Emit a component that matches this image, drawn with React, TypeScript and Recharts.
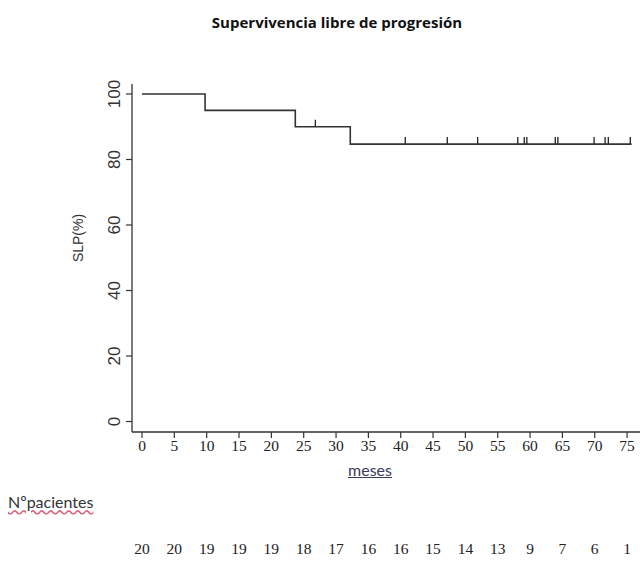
import React from 'react';
import { ComposedChart, Line, Scatter, XAxis, YAxis } from 'recharts';

// Kaplan-Meier step points (months, % progression-free)
const kmTimes = [0, 9.75, 23.7, 32.2, 75.7];
const kmSurv = [100, 95, 90, 84.7, 84.7];
// censored observations (months)
const censorTimes = [26.8, 40.7, 47.2, 51.9, 58.1, 59.1, 59.5, 63.9, 64.3, 69.9, 71.6, 72.1, 75.5];
// axis ticks
const xTicks = [0, 5, 10, 15, 20, 25, 30, 35, 40, 45, 50, 55, 60, 65, 70, 75];
const yTicks = [0, 20, 40, 60, 80, 100];
// number at risk at each x tick
const atRisk = [20, 20, 19, 19, 19, 18, 17, 16, 16, 15, 14, 13, 9, 7, 6, 1];

const kmData = kmTimes.map((t, i) => ({ t, s: kmSurv[i] }));
const survAt = (t: number) => {
  let s = kmSurv[0];
  for (let i = 0; i < kmTimes.length; i++) if (kmTimes[i] <= t) s = kmSurv[i];
  return s;
};
const censorData = censorTimes.map((t) => ({ t, s: survAt(t) }));

const YTick = (props: any) => {
  const { x, y, payload } = props;
  const cx = x - 9;
  return (
    <text
      x={cx}
      y={y}
      transform={`rotate(-90, ${cx}, ${y})`}
      textAnchor="middle"
      dominantBaseline="central"
      fontFamily="'Liberation Sans', Arial, sans-serif"
      fontSize={17}
      fill="#333"
    >
      {payload.value}
    </text>
  );
};

const CensorMark = (props: any) => {
  const { cx, cy } = props;
  if (cx == null || cy == null) return null;
  return <line x1={cx} x2={cx} y1={cy} y2={cy - 7} stroke="#222" strokeWidth={1.3} />;
};

export default function App() {
  return (
    <div style={{ position: 'absolute', left: 0, top: 0, width: 640, height: 570, background: '#fff' }}>
      <ComposedChart width={640} height={570} margin={{ top: 84, right: 0, bottom: 0, left: 0 }}>
        <XAxis
          xAxisId="main"
          dataKey="t"
          type="number"
          domain={[-1.55, 77]}
          allowDataOverflow
          ticks={xTicks}
          interval={0}
          height={60}
          tickSize={6}
          tickMargin={2}
          axisLine={{ stroke: '#333', strokeWidth: 1.3 }}
          tickLine={{ stroke: '#333', strokeWidth: 1.2 }}
          tick={{ fontFamily: "'Liberation Serif', 'Times New Roman', serif", fontSize: 15.5, fill: '#222' }}
        />
        <XAxis
          xAxisId="risk"
          dataKey="t"
          type="number"
          domain={[-1.55, 77]}
          allowDataOverflow
          ticks={xTicks}
          interval={0}
          height={78}
          axisLine={false}
          tickLine={false}
          tickSize={0}
          tickMargin={51}
          tickFormatter={(v: number) => String(atRisk[xTicks.indexOf(v)] ?? '')}
          tick={{ fontFamily: "'Liberation Serif', 'Times New Roman', serif", fontSize: 15.5, fill: '#222' }}
        />
        <YAxis
          yAxisId="y"
          type="number"
          domain={[-3.2, 103.05]}
          allowDataOverflow
          ticks={yTicks}
          interval={0}
          width={132}
          tickSize={6}
          tickMargin={2}
          axisLine={{ stroke: '#333', strokeWidth: 1.3 }}
          tickLine={{ stroke: '#333', strokeWidth: 1.2 }}
          tick={<YTick />}
        />
        <Line
          xAxisId="main"
          yAxisId="y"
          data={kmData}
          dataKey="s"
          type="stepAfter"
          stroke="#333"
          strokeWidth={1.6}
          dot={false}
          activeDot={false}
          isAnimationActive={false}
        />
        <Scatter
          xAxisId="main"
          yAxisId="y"
          data={censorData}
          dataKey="s"
          shape={<CensorMark />}
          isAnimationActive={false}
        />
      </ComposedChart>
      <div
        style={{
          position: 'absolute',
          left: 337,
          top: 12,
          transform: 'translateX(-50%)',
          whiteSpace: 'nowrap',
          fontFamily: "'Open Sans', sans-serif",
          fontWeight: 700,
          fontSize: 15,
          lineHeight: '20px',
          color: '#111',
        }}
      >
        Supervivencia libre de progresión
      </div>
      <div
        style={{
          position: 'absolute',
          left: 78,
          top: 238,
          transform: 'translate(-50%, -50%) rotate(-90deg)',
          whiteSpace: 'nowrap',
          fontFamily: "'Liberation Sans', Arial, sans-serif",
          fontSize: 14,
          lineHeight: '16px',
          color: '#333',
        }}
      >
        SLP(%)
      </div>
      <div
        style={{
          position: 'absolute',
          left: 370,
          top: 460,
          transform: 'translateX(-50%)',
          whiteSpace: 'nowrap',
          fontFamily: 'Lato, sans-serif',
          fontSize: 16,
          lineHeight: '20px',
          color: '#3a3a5c',
          textDecoration: 'underline',
        }}
      >
        meses
      </div>
      <div
        style={{
          position: 'absolute',
          left: 8,
          top: 493,
          whiteSpace: 'nowrap',
          fontFamily: 'Lato, sans-serif',
          fontSize: 16,
          lineHeight: '18px',
          color: '#333',
          textDecoration: 'underline wavy #e0607a',
        }}
      >
        Nºpacientes
      </div>
    </div>
  );
}
